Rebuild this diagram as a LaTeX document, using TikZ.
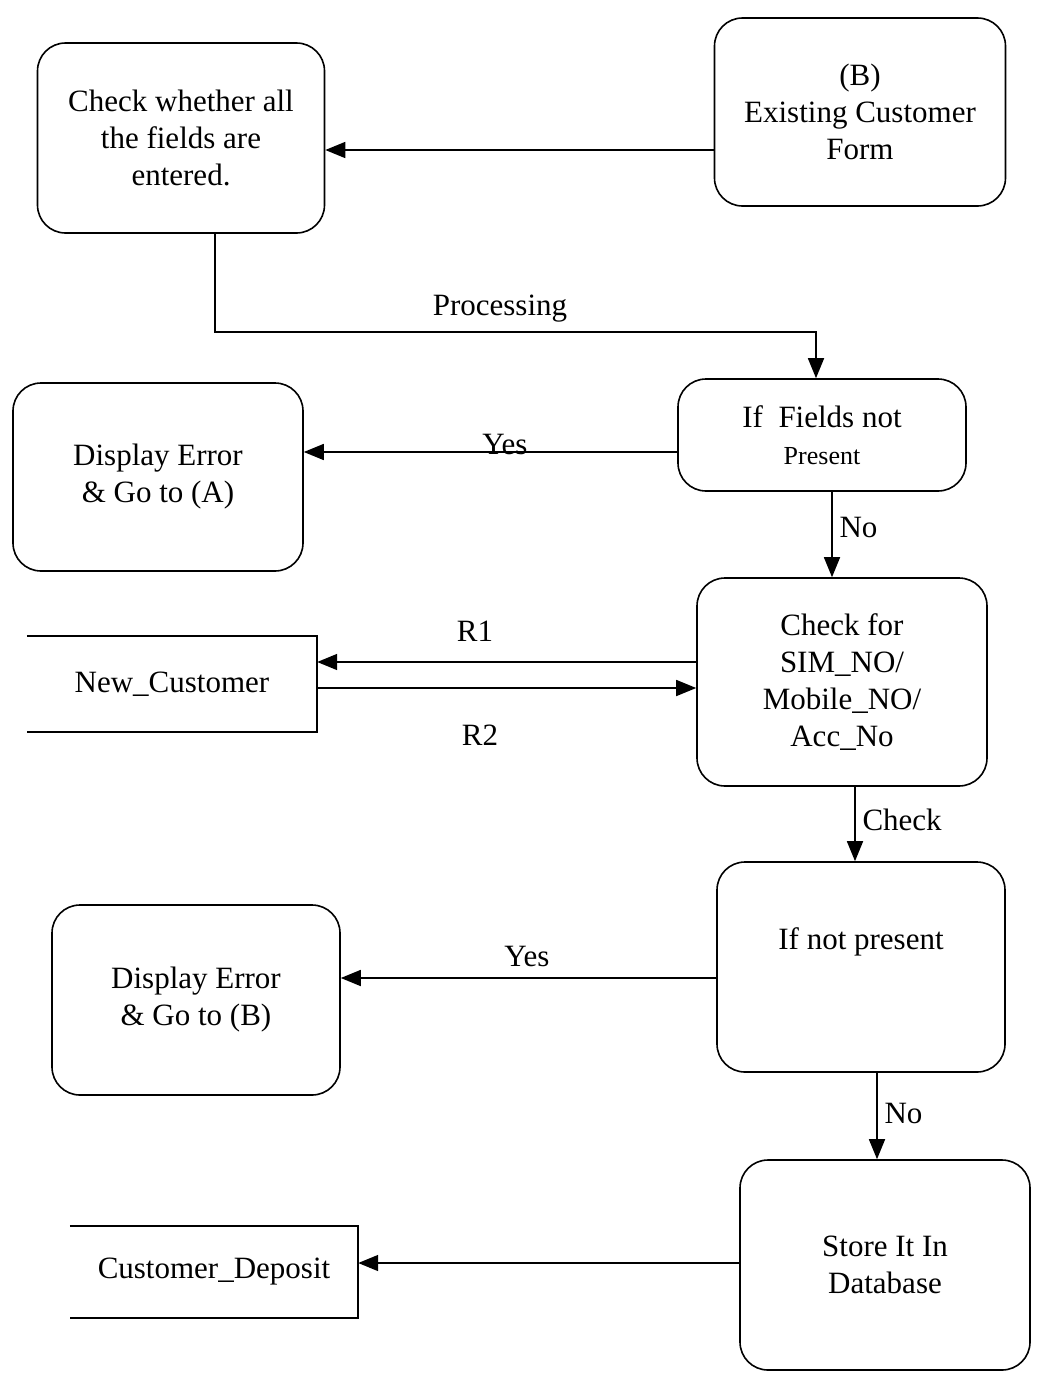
\documentclass[tikz,border=0pt]{standalone}
\usepackage{fontspec}
\setmainfont{Liberation Serif}
\usetikzlibrary{arrows.meta}
\tikzset{
  box/.style={draw, line width=1.6pt, rounded corners=28pt, align=center, font=\fontsize{31}{37}\selectfont},
  arr/.style={line width=1.6pt, -{Triangle[length=20pt,width=16pt]}},
  ln/.style={line width=1.6pt},
  lbl/.style={font=\fontsize{31}{36}\selectfont},
  store/.style={font=\fontsize{31}{36}\selectfont}
}
\begin{document}
\begin{tikzpicture}[x=1pt,y=-1pt]
\useasboundingbox (0,0) rectangle (1037,1379);
% process boxes
\node[box, minimum width=287pt, minimum height=190pt] (chk) at (181,138) {Check whether all\\the fields are\\entered.};
\node[box, minimum width=291pt, minimum height=188pt] (exist) at (860,112) {(B)\\Existing Customer\\Form};
\node[box, minimum width=288pt, minimum height=112pt] (iff) at (822,435) {If\ \ Fields not\\{\fontsize{26}{30}\selectfont Present}};
\node[box, minimum width=290pt, minimum height=188pt] (errA) at (158,477) {Display Error\\\& Go to (A)};
\node[box, minimum width=290pt, minimum height=208pt] (sim) at (842,682) {Check for\\SIM\_NO/\\Mobile\_NO/\\Acc\_No};
\node[draw, line width=1.6pt, rounded corners=28pt, minimum width=288pt, minimum height=210pt] (inp) at (861,967) {};
\node[lbl] (inptxt) at (861,942) {If not present};
\node[box, minimum width=288pt, minimum height=190pt] (errB) at (196,1000) {Display Error\\\& Go to (B)};
\node[box, minimum width=290pt, minimum height=210pt] (db) at (885,1265) {Store It In\\Database};
% data stores
\node[store, minimum width=290pt, minimum height=96pt] (nc) at (172,684) {New\_Customer};
\draw[ln] (nc.north west) -- (nc.north east) -- (nc.south east) -- (nc.south west);
\node[store, minimum width=288pt, minimum height=92pt] (cd) at (214,1272) {Customer\_Deposit};
\draw[ln] (cd.north west) -- (cd.north east) -- (cd.south east) -- (cd.south west);
% helper coordinates
\coordinate (y1) at (0,150);
\coordinate (p1) at (215,332);
\coordinate (p2) at (816,332);
\coordinate (y2) at (0,452);
\coordinate (y3) at (0,662);
\coordinate (y4) at (0,688);
\coordinate (y5) at (0,978);
\coordinate (y6) at (0,1263);
\coordinate (x1) at (832,0);
\coordinate (x2) at (855,0);
\coordinate (x3) at (877,0);
% connectors
\draw[arr] (exist.west |- y1) -- (chk.east |- y1);
\draw[arr] (chk.south -| p1) -- (p1) -- (p2) -- (iff.north -| p2);
\node[lbl, anchor=south] (proc) at (500,326) {Processing};
\draw[arr] (iff.west |- y2) -- (errA.east |- y2);
\node[lbl, anchor=south] (yes1) at (505,458) {Yes};
\draw[arr] (iff.south -| x1) -- (sim.north -| x1);
\node[lbl, anchor=west] (no1) at (836,527) {No};
\draw[arr] (sim.west |- y3) -- (nc.east |- y3);
\node[lbl, anchor=south] (r1) at (475,645) {R1};
\draw[arr] (nc.east |- y4) -- (sim.west |- y4);
\node[lbl] (r2) at (480,735) {R2};
\draw[arr] (sim.south -| x2) -- (inp.north -| x2);
\node[lbl, anchor=west] (chkl) at (859,820) {Check};
\draw[arr] (inp.west |- y5) -- (errB.east |- y5);
\node[lbl, anchor=south] (yes2) at (527,970) {Yes};
\draw[arr] (inp.south -| x3) -- (db.north -| x3);
\node[lbl, anchor=west] (no2) at (881,1113) {No};
\draw[arr] (db.west |- y6) -- (cd.east |- y6);
\end{tikzpicture}
\end{document}
